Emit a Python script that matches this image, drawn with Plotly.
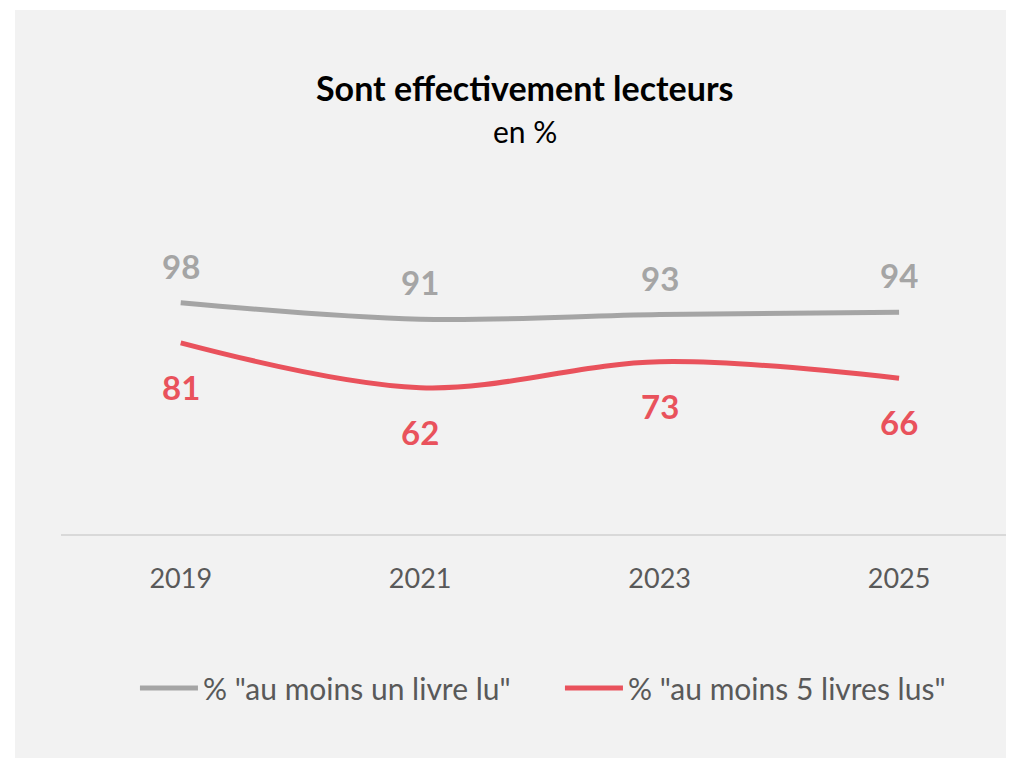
import plotly.graph_objects as go

years = [2019, 2021, 2023, 2025]
un_livre = [98, 91, 93, 94]
cinq_livres = [81, 62, 73, 66]

gray = "#a5a5a5"
red = "#e9525c"
font = "Lato"

fig = go.Figure()
fig.add_trace(go.Scatter(x=years, y=un_livre, mode="lines", name='% "au moins un livre lu"',
                         line=dict(color=gray, width=5, shape="spline", smoothing=1)))
fig.add_trace(go.Scatter(x=years, y=cinq_livres, mode="lines", name='% "au moins 5 livres lus"',
                         line=dict(color=red, width=5, shape="spline", smoothing=1)))

# étiquettes de données
for x, v in zip(years, un_livre):
    fig.add_annotation(x=x, y=v, text=str(v), showarrow=False, yshift=37,
                       font=dict(family=font, size=33, color=gray, weight="bold"))
for x, v in zip(years, cinq_livres):
    fig.add_annotation(x=x, y=v, text=str(v), showarrow=False, yshift=-44,
                       font=dict(family=font, size=33, color=red, weight="bold"))

# titre
fig.add_annotation(x=0.487, y=1.26, xref="paper", yref="paper", showarrow=False,
                   text="<b>Sont effectivement lecteurs</b>", yanchor="middle",
                   font=dict(family=font, size=34, color="#000000"))
fig.add_annotation(x=0.487, y=1.138, xref="paper", yref="paper", showarrow=False,
                   text="en %", yanchor="middle",
                   font=dict(family=font, size=30, color="#000000"))

# fond du panneau
fig.add_shape(type="rect", xref="paper", yref="paper", x0=-0.0483, x1=1.05, y0=-0.8, y1=1.4802,
              fillcolor="#f2f2f2", line=dict(width=0), layer="below")

fig.update_layout(
    width=1014, height=758,
    margin=dict(l=53, r=8, t=172, b=232),
    paper_bgcolor="white",
    plot_bgcolor="rgba(0,0,0,0)",
    font=dict(family=font, color="#595959"),
    showlegend=True,
    legend=dict(orientation="h", x=0.0776, xanchor="left", y=-0.435, yanchor="middle",
                entrywidth=352, itemwidth=58, font=dict(size=30, color="#595959"),
                bgcolor="rgba(0,0,0,0)"),
    xaxis=dict(range=[2018, 2025.96], tickvals=years, showgrid=False, zeroline=False,
               showline=True, linecolor="#d9d9d9", linewidth=2, ticks="",
               ticklabelstandoff=20, tickfont=dict(size=27, color="#595959"),
               fixedrange=True),
    yaxis=dict(range=[0, 150], visible=False, fixedrange=True),
)

fig.write_html("out.html")
